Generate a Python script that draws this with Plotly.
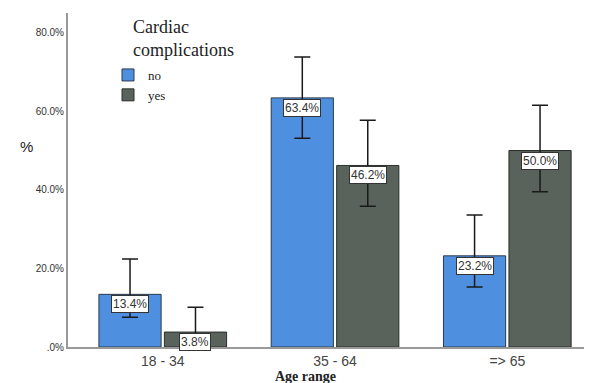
import plotly.graph_objects as go

categories = ["18 - 34", "35 - 64", "=> 65"]
no_vals = [13.4, 63.4, 23.2]
yes_vals = [3.8, 46.2, 50.0]
no_hi = [22.4, 73.8, 33.6]
no_lo = [7.6, 53.1, 15.3]
yes_hi = [10.1, 57.7, 61.5]
yes_lo = [1.5, 35.8, 39.5]
ytick_vals = [0, 20, 40, 60, 80]
ytick_text = [".0%", "20.0%", "40.0%", "60.0%", "80.0%"]

blue = "#4f8fe0"
dark = "#5a625c"
SERIF = "Liberation Serif"
SANS = "Liberation Sans"

def err(vals, hi, lo):
    return dict(type="data", symmetric=False,
                array=[h - v for h, v in zip(hi, vals)],
                arrayminus=[v - l for v, l in zip(vals, lo)],
                color="#1a1a1a", thickness=1.5, width=8)

fig = go.Figure()
fig.add_trace(go.Bar(x=categories, y=no_vals, name="no",
                     marker=dict(color=blue, line=dict(color="#2a3a4a", width=1)),
                     error_y=err(no_vals, no_hi, no_lo)))
fig.add_trace(go.Bar(x=categories, y=yes_vals, name="yes",
                     marker=dict(color=dark, line=dict(color="#2a2f2c", width=1)),
                     error_y=err(yes_vals, yes_hi, yes_lo)))

OFF = 8  # page body margin
W, H = 592 - OFF, 383 - OFF
# plot area in page pixels: left 68, right 590, top 13, bottom 347
L, R, T, B = 68 - OFF, 592 - 590, 13 - OFF, 383 - 347

pw, ph = W - L - R, H - T - B

def px(x):
    return (x - OFF - L) / pw

def py(y):
    return (H - B - (y - OFF)) / ph

ann = []
for i, (a, b) in enumerate(zip(no_vals, yes_vals)):
    for off, v in ((-0.19, a), (0.19, b)):
        ann.append(dict(x=i + off, y=v, xref="x", yref="y", text=f"{v:.1f}%",
                        showarrow=False, yanchor="top", yshift=-1,
                        bgcolor="white", bordercolor="#333", borderwidth=1, borderpad=1,
                        font=dict(family=SANS, size=12, color="#333")))
ann.append(dict(x=px(131), y=py(15), xref="paper", yref="paper",
                text="Cardiac<br>complications", showarrow=False, xanchor="left", yanchor="top",
                align="left", font=dict(family=SERIF, size=18, color="#222")))
ann.append(dict(x=px(18), y=py(146), xref="paper", yref="paper", text="%",
                showarrow=False, font=dict(family=SANS, size=15, color="#222")))
ann.append(dict(x=px(305), y=py(376), xref="paper", yref="paper", text="<b>Age range</b>",
                showarrow=False, yanchor="middle",
                font=dict(family=SERIF, size=14, color="#222")))

fig.update_layout(
    width=W, height=H,
    margin=dict(l=L, r=R, t=T, b=B, autoexpand=False),
    paper_bgcolor="white", plot_bgcolor="white",
    barmode="group", bargap=0.24, bargroupgap=0.05,
    showlegend=True,
    legend=dict(x=px(108), y=py(60), xanchor="left", yanchor="top",
                font=dict(family=SERIF, size=13, color="#222"),
                bgcolor="rgba(0,0,0,0)", tracegroupgap=0, itemwidth=30),
    annotations=ann,
    xaxis=dict(type="category", range=[-0.55, 2.48], showline=True, linecolor="#999", linewidth=2,
               ticks="", ticklen=0, tickfont=dict(family=SANS, size=14, color="#444"), automargin=False,
               showgrid=False, zeroline=False),
    yaxis=dict(range=[0, 85], tickvals=ytick_vals, ticktext=ytick_text, showline=True,
               linecolor="#999", linewidth=2, ticks="", showgrid=False, zeroline=False,
               automargin=False,
               tickfont=dict(family=SANS, size=10, color="#333")),
)
fig.write_html("out.html")
